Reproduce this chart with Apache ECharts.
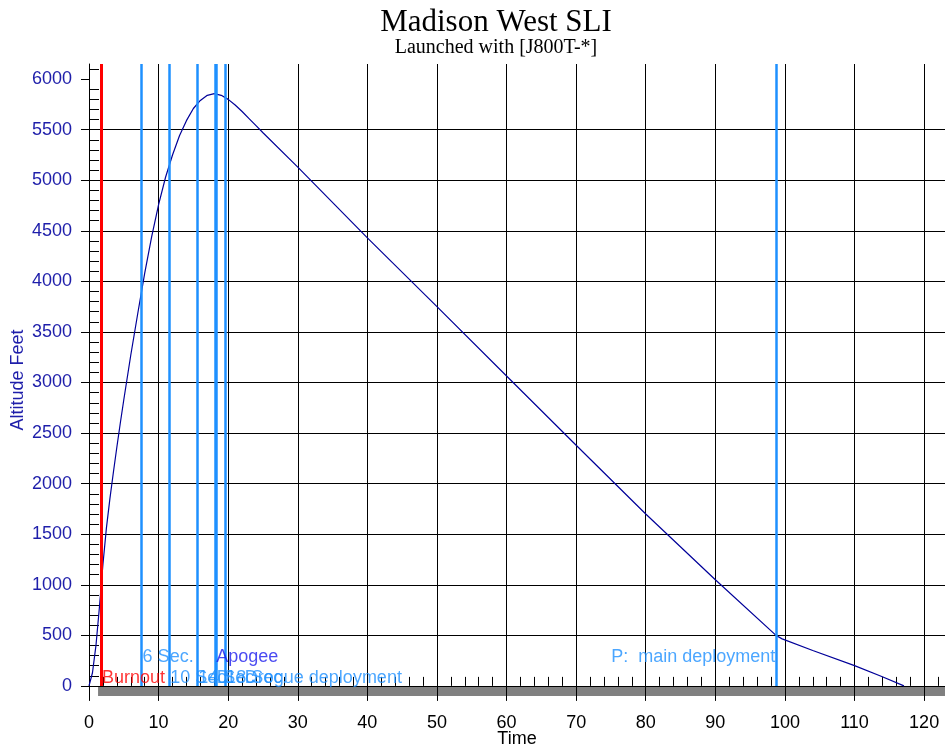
<!DOCTYPE html>
<html>
<head>
<meta charset="utf-8">
<script src="https://cdn.jsdelivr.net/npm/echarts@6/dist/echarts.min.js"></script>
<style>
  html, body { margin: 0; padding: 0; background: #fff; }
  #chart { width: 945px; height: 748px; }
</style>
</head>
<body>
<div id="chart"></div>
<script>
// flight profile (time in s, altitude in ft)
var timeSec = [0, 0.5, 1, 1.5, 2, 2.5, 3, 3.5, 4, 4.5, 5, 6, 7, 8, 9, 10, 11, 12, 13, 14, 15, 16, 17, 18, 19, 20,
  21, 22, 23, 24, 25, 30, 40, 50, 60, 70, 80, 90, 98.8, 99.6, 104, 110, 114, 117.1];
var altitudeFt = [0, 130, 400, 780, 1200, 1560, 1850, 2110, 2360, 2600, 2830, 3270, 3680, 4080, 4440, 4760, 5030, 5250, 5440, 5590, 5710, 5790, 5840, 5857, 5840, 5800,
  5745, 5680, 5610, 5540, 5470, 5130, 4430, 3750, 3065, 2380, 1700, 1050, 495, 465, 350, 200, 90, 0];

// flight events
var eventTimes = [1.72, 7.56, 11.53, 15.54, 18.13, 18.22, 19.56, 98.75];
var eventNames = ['Burnout', '6 Sec.', '10 Sec.', '14 Sec.', 'Apogee', 'D:  Drogue deployment', '18 Sec.', 'P:  main deployment'];
var eventKinds = ['burnout', 'timer', 'timer', 'timer', 'apogee', 'drogue', 'timer', 'main'];
var eventRows = [2, 1, 2, 2, 1, 2, 2, 1];

// ground strip under the plot
var groundTimes = [1.3, 123];

var yTickValues = [0, 500, 1000, 1500, 2000, 2500, 3000, 3500, 4000, 4500, 5000, 5500, 6000];

var X_MAX = 123, Y_MIN = -100, Y_MAX = 6150;
var FONT = '"Liberation Sans", Arial, sans-serif';
var SERIF = '"Liberation Serif", "Times New Roman", serif';

var kindColor = { burnout: '#ff0000', timer: '#1e90ff', apogee: '#1e90ff', drogue: '#1e90ff', main: '#1e90ff' };
var kindText = { burnout: '#ff0000', timer: '#1e90ff', apogee: '#1a1aee', drogue: '#1e90ff', main: '#1e90ff' };
var rowAlt = { 1: 285, 2: 78 };

var myChart = echarts.init(document.getElementById('chart'));

var curve = timeSec.map(function (t, i) { return [t, altitudeFt[i]]; });
var ground = groundTimes.map(function (t) { return [t, 0]; });

var eventLines = eventTimes.map(function (t, i) {
  return [
    { xAxis: t, yAxis: 0, lineStyle: { color: kindColor[eventKinds[i]], width: eventKinds[i] === 'burnout' ? 3 : 2.5, type: 'solid' } },
    { xAxis: t, yAxis: Y_MAX }
  ];
});

var eventLabels = eventTimes.map(function (t, i) {
  var k = eventKinds[i];
  return {
    value: [t, rowAlt[eventRows[i]]],
    label: {
      formatter: eventNames[i],
      color: kindText[k],
      position: k === 'main' ? 'left' : 'right',
      distance: 1
    }
  };
});

var option = {
  animation: false,
  backgroundColor: '#ffffff',
  title: {
    text: 'Madison West SLI',
    subtext: 'Launched with [J800T-*]',
    left: 496,
    textAlign: 'center',
    top: 7,
    padding: 0,
    itemGap: 0,
    textStyle: { fontFamily: SERIF, fontSize: 31, fontWeight: 'normal', color: '#000' },
    subtextStyle: { fontFamily: SERIF, fontSize: 20, color: '#000' }
  },
  grid: { left: 89, right: 0, top: 64, bottom: 52, containLabel: false, outerBoundsMode: 'none' },
  xAxis: {
    type: 'value',
    min: 0,
    max: X_MAX,
    interval: 10,
    name: 'Time',
    nameLocation: 'middle',
    nameGap: 34,
    nameMoveOverlap: false,
    nameTextStyle: { fontFamily: FONT, fontSize: 18, color: '#000' },
    axisLine: { show: true, onZero: true, lineStyle: { color: '#000', width: 1 } },
    axisTick: { show: true, length: 15, lineStyle: { color: '#000', width: 1 } },
    minorTick: { show: true, splitNumber: 5, length: -9, lineStyle: { color: '#000', width: 1 } },
    axisLabel: { fontFamily: FONT, fontSize: 18, color: '#000', margin: 18, showMaxLabel: false },
    splitLine: { show: true, showMaxLine: false, lineStyle: { color: '#000', width: 1 } }
  },
  yAxis: {
    type: 'value',
    min: Y_MIN,
    max: Y_MAX,
    minInterval: 500,
    maxInterval: 500,
    splitNumber: 12,
    name: 'Altitude Feet',
    nameLocation: 'middle',
    nameRotate: 90,
    nameGap: 62,
    nameMoveOverlap: false,
    nameTextStyle: { fontFamily: FONT, fontSize: 18, color: '#1e1eaa' },
    axisLine: { show: true, lineStyle: { color: '#000', width: 1 } },
    axisTick: { show: true, length: 8, customValues: yTickValues, lineStyle: { color: '#000', width: 1 } },
    minorTick: { show: true, splitNumber: 5, length: -10, lineStyle: { color: '#000', width: 1 } },
    axisLabel: {
      fontFamily: FONT, fontSize: 18, color: '#1e1eaa', margin: 17, customValues: yTickValues,
      formatter: function (v) { return String(v); }
    },
    splitLine: { show: true, showMinLine: false, showMaxLine: false, lineStyle: { color: '#000', width: 1 } }
  },
  series: [
    {
      name: 'ground',
      type: 'line',
      z: -1,
      silent: true,
      symbol: 'none',
      data: ground,
      lineStyle: { width: 0 },
      areaStyle: { color: '#808080', opacity: 1, origin: 'start' }
    },
    {
      name: 'events',
      type: 'line',
      data: [],
      silent: true,
      markLine: {
        silent: true,
        symbol: 'none',
        label: { show: false },
        data: eventLines
      }
    },
    {
      name: 'Altitude',
      type: 'line',
      z: 4,
      symbol: 'none',
      data: curve,
      lineStyle: { color: '#000099', width: 1.2 }
    },
    {
      name: 'labels',
      type: 'scatter',
      z: 5,
      silent: true,
      symbolSize: 0,
      data: eventLabels,
      label: { show: true, fontFamily: FONT, fontSize: 18 }
    }
  ]
};

myChart.setOption(option);
</script>
</body>
</html>
